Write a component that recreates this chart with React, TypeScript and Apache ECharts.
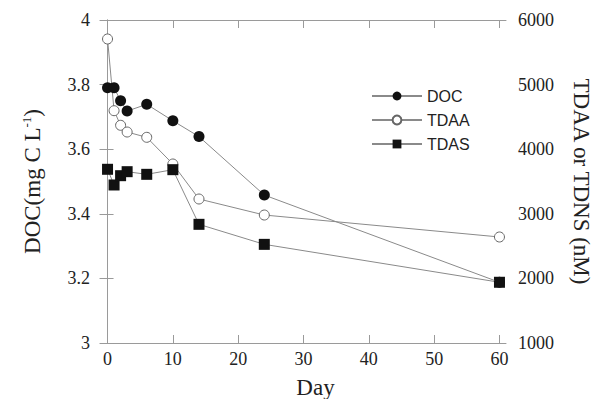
import React, { useEffect, useRef } from "react";
import * as echarts from "echarts";

const days = [0, 1, 2, 3, 6, 10, 14, 24, 60];
const docValues = [3.79, 3.79, 3.75, 3.718, 3.739, 3.688, 3.639, 3.458, 3.188];
const tdaaValues = [5706, 4596, 4370, 4266, 4184, 3771, 3229, 2981, 2641];
const tdasValues = [3689, 3446, 3590, 3652, 3611, 3683, 2837, 2527, 1940];
const dayTicks = [0, 10, 20, 30, 40, 50, 60];

const serif = "Liberation Serif";
const sans = "Liberation Sans";
const axisGray = "#9a9a9a";
const lineGray = "#8a8a8a";
const textColor = "#222";
const tickLabel = { fontFamily: serif, fontSize: 18, color: textColor };

export default function App() {
  const ref = useRef<HTMLDivElement>(null);
  useEffect(() => {
    if (!ref.current) return;
    const chart = echarts.init(ref.current, undefined, { renderer: "svg" });
    const pair = (vals: number[]) => days.map((d, i) => [d, vals[i]]);
    chart.setOption({
      animation: false,
      backgroundColor: "#fff",
      grid: { left: 101, right: 99, top: 20, bottom: 56, outerBoundsMode: "none", containLabel: false },
      legend: {
        orient: "vertical",
        left: 366,
        top: 83,
        itemWidth: 50,
        itemHeight: 11,
        itemGap: 8,
        textStyle: { fontFamily: sans, fontSize: 16, color: textColor },
        data: ["DOC", "TDAA", "TDAS"],
      },
      xAxis: [
        {
          type: "value",
          min: -1,
          max: 61,
          name: "Day",
          nameLocation: "middle",
          nameGap: 33,
          nameTextStyle: { fontFamily: serif, fontSize: 23, color: textColor, padding: [0, 0, 0, 24] },
          axisLine: { show: true, lineStyle: { color: axisGray } },
          axisTick: { show: true, inside: true, length: 8, customValues: dayTicks, lineStyle: { color: axisGray } },
          axisLabel: { customValues: dayTicks, margin: 7, ...tickLabel, formatter: (v: number) => String(v) },
          splitLine: { show: false },
        },
        {
          type: "value",
          position: "top",
          min: -1,
          max: 61,
          axisLine: { show: true, lineStyle: { color: axisGray } },
          axisTick: { show: true, inside: true, length: 8, customValues: dayTicks, lineStyle: { color: axisGray } },
          axisLabel: { show: false, customValues: dayTicks },
          splitLine: { show: false },
        },
      ],
      yAxis: [
        {
          type: "value",
          min: 3,
          max: 4,
          interval: 0.2,
          name: "{a|DOC(mg C L}{b|-1}{a|)}",
          nameLocation: "middle",
          nameGap: 56,
          nameRotate: 90,
          nameTextStyle: {
            rich: {
              a: { fontFamily: serif, fontSize: 23, color: textColor },
              b: { fontFamily: serif, fontSize: 13, color: textColor, padding: [0, 0, 12, 0] },
            },
          },
          axisLine: { show: true, lineStyle: { color: axisGray } },
          axisTick: { show: true, inside: true, length: 6, lineStyle: { color: axisGray } },
          axisLabel: {
            margin: 11,
            ...tickLabel,
            formatter: (v: number) => (Math.abs(v - Math.round(v)) < 1e-9 ? String(Math.round(v)) : v.toFixed(1)),
          },
          splitLine: { show: false },
        },
        {
          type: "value",
          min: 1000,
          max: 6000,
          interval: 1000,
          position: "right",
          name: "TDAA or TDNS (nM)",
          nameLocation: "middle",
          nameGap: 64,
          nameRotate: -90,
          nameTextStyle: { fontFamily: serif, fontSize: 23, color: textColor },
          axisLine: { show: true, lineStyle: { color: axisGray } },
          axisTick: { show: true, inside: true, length: 8, lineStyle: { color: axisGray } },
          axisLabel: { margin: 12, ...tickLabel, formatter: (v: number) => String(v) },
          splitLine: { show: false },
        },
      ],
      series: [
        {
          name: "DOC",
          type: "line",
          yAxisIndex: 0,
          data: pair(docValues),
          symbol: "circle",
          symbolSize: 11,
          lineStyle: { color: lineGray, width: 1 },
          itemStyle: { color: "#111", borderColor: "#111", borderWidth: 0 },
          z: 3,
        },
        {
          name: "TDAA",
          type: "line",
          yAxisIndex: 1,
          data: pair(tdaaValues),
          symbol: "circle",
          symbolSize: 10,
          showAllSymbol: true,
          lineStyle: { color: lineGray, width: 1 },
          itemStyle: { color: "#fff", borderColor: "#666", borderWidth: 1 },
          z: 2,
        },
        {
          name: "TDAS",
          type: "line",
          yAxisIndex: 1,
          data: pair(tdasValues),
          symbol: "rect",
          symbolSize: 11,
          lineStyle: { color: lineGray, width: 1 },
          itemStyle: { color: "#111", borderColor: "#111", borderWidth: 0 },
          z: 2,
        },
      ],
    });
    return () => chart.dispose();
  }, []);
  return <div ref={ref} style={{ width: 605, height: 399, position: "absolute", left: 0, top: 0 }} />;
}
